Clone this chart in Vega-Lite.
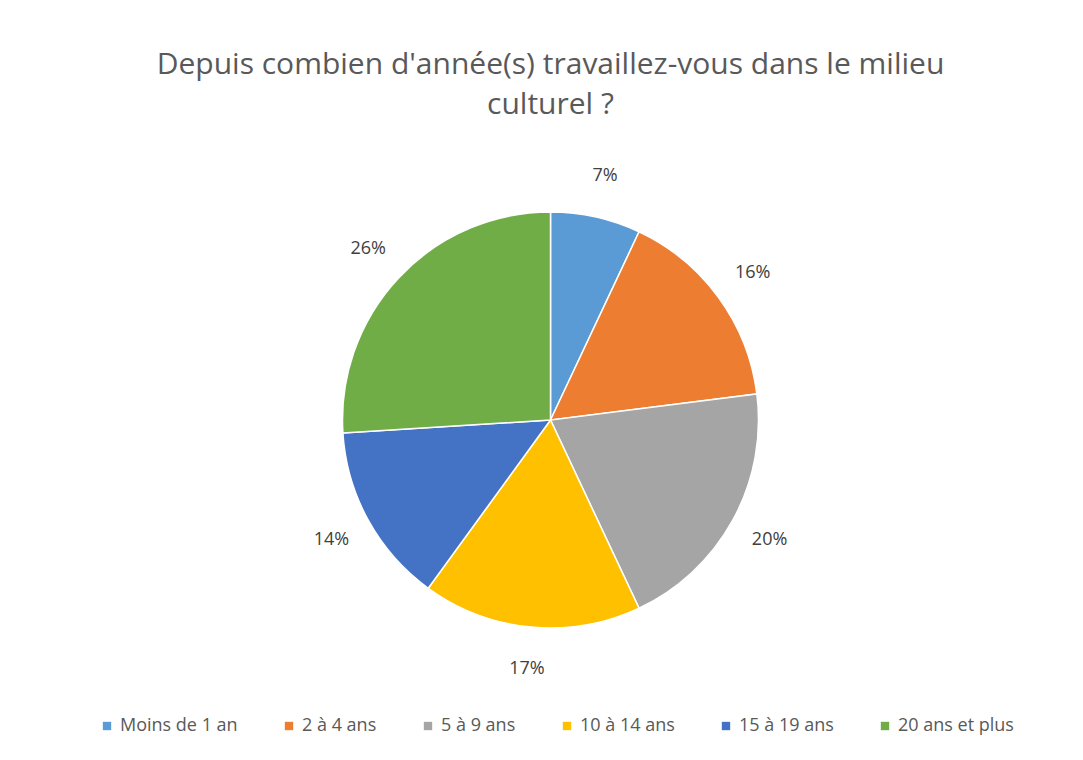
{
  "$schema": "https://vega.github.io/schema/vega-lite/v6.json",
  "width": 1083,
  "height": 760,
  "autosize": {"type": "fit", "contains": "padding"},
  "padding": {"top": 50, "bottom": 80, "left": 28, "right": 10},
  "background": "white",
  "title": {
    "text": ["Depuis combien d'année(s) travaillez-vous dans le milieu", "culturel ?"],
    "fontSize": 30,
    "fontWeight": "normal",
    "font": "Open Sans",
    "color": "#595959",
    "lineHeight": 40,
    "anchor": "middle",
    "offset": 40
  },
  "data": {
    "values": [
      {"categorie": "Moins de 1 an", "pct": 7, "ordre": 1, "label": "7%"},
      {"categorie": "2 à 4 ans", "pct": 16, "ordre": 2, "label": "16%"},
      {"categorie": "5 à 9 ans", "pct": 20, "ordre": 3, "label": "20%"},
      {"categorie": "10 à 14 ans", "pct": 17, "ordre": 4, "label": "17%"},
      {"categorie": "15 à 19 ans", "pct": 14, "ordre": 5, "label": "14%"},
      {"categorie": "20 ans et plus", "pct": 26, "ordre": 6, "label": "26%"}
    ]
  },
  "encoding": {
    "theta": {"field": "pct", "type": "quantitative", "stack": true},
    "order": {"field": "ordre", "type": "quantitative", "sort": "ascending"},
    "color": {
      "field": "categorie",
      "type": "nominal",
      "sort": ["Moins de 1 an", "2 à 4 ans", "5 à 9 ans", "10 à 14 ans", "15 à 19 ans", "20 ans et plus"],
      "scale": {
        "domain": ["Moins de 1 an", "2 à 4 ans", "5 à 9 ans", "10 à 14 ans", "15 à 19 ans", "20 ans et plus"],
        "range": ["#5B9BD5", "#ED7D31", "#A5A5A5", "#FFC000", "#4472C4", "#70AD47"]
      },
      "legend": {
        "title": null,
        "orient": "none",
        "legendX": 70,
        "legendY": 557,
        "direction": "horizontal",
        "symbolType": "square",
        "symbolSize": 70,
        "symbolStrokeWidth": 0,
        "labelFontSize": 18,
        "labelFont": "Open Sans",
        "labelColor": "#595959",
        "columnPadding": 42,
        "symbolOffset": 0
      }
    }
  },
  "layer": [
    {
      "mark": {"type": "arc", "outerRadius": 208, "stroke": "white", "strokeWidth": 1.5}
    },
    {
      "mark": {"type": "text", "radius": 250, "fontSize": 18, "font": "Open Sans", "color": "#404040"},
      "encoding": {
        "text": {"field": "label", "type": "nominal"},
        "color": {"value": "#404040"}
      }
    }
  ],
  "config": {"view": {"stroke": null}}
}
